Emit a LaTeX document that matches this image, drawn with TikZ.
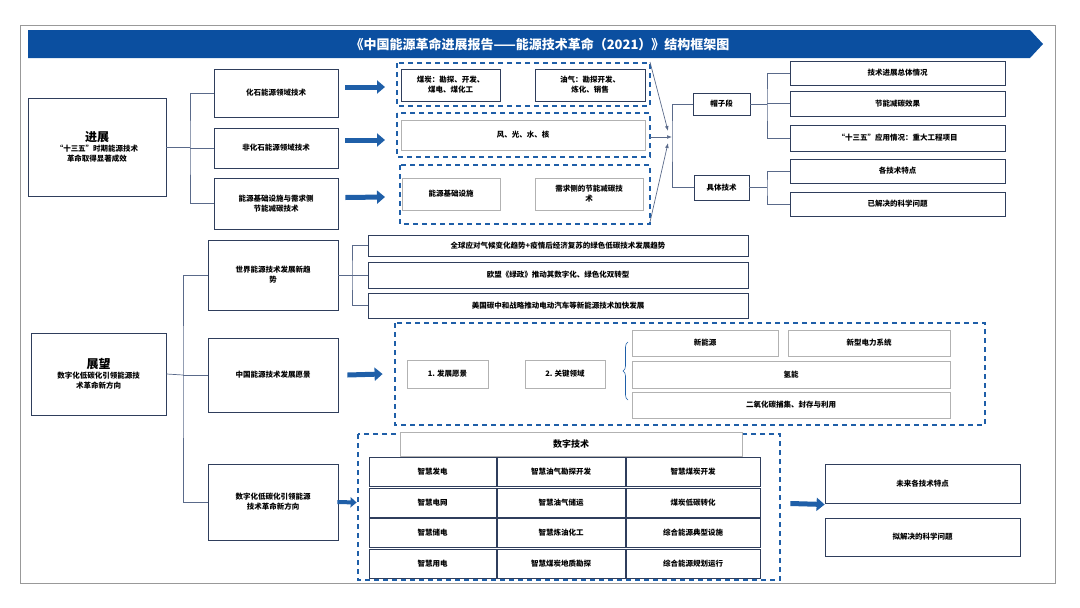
\documentclass[tikz,border=0pt]{standalone}
\usepackage{fontspec}
\setmainfont{Noto Sans CJK SC}
\usetikzlibrary{positioning,arrows.meta,calc,decorations.pathreplacing}
\definecolor{navy}{HTML}{2F3E5C}
\definecolor{linec}{HTML}{5A6A8A}
\definecolor{bannerblue}{HTML}{0B4FA0}
\definecolor{dashblue}{HTML}{1F5FA8}
\tikzset{
  box/.style={draw=navy, line width=0.8pt, fill=white, align=center, font=\fontsize{7.5}{10}\selectfont\bfseries, inner sep=1pt},
  gbox/.style={box, draw=black!30},
  dbox/.style={draw=dashblue, line width=1.8pt, dash pattern=on 5pt off 4pt},
  conn/.style={draw=linec, line width=0.7pt},
  bigarr/.style={draw=dashblue, line width=5pt, -{Triangle[length=8pt,width=13pt]}}
}
\begin{document}
\begin{tikzpicture}[x=1pt,y=-1pt]
\useasboundingbox (0,0) rectangle (1080,608);
\draw[black!40, line width=0.8pt] (20,25) rectangle (1055,583);
\fill[bannerblue] (28,30) -- (1030,30) -- (1043,44) -- (1030,58) -- (28,58) -- cycle;
\node[text=white, font=\fontsize{13}{15}\selectfont\bfseries] (title) at (540,44) {《中国能源革命进展报告——能源技术革命（2021）》结构框架图};
%============ progress
\node[box, minimum width=138pt, minimum height=98pt] (prog) at (97,147) {{\fontsize{12}{14}\selectfont 进展}\\“十三五”时期能源技术\\革命取得显著成效};
\node[box, minimum width=124pt, minimum height=48pt] (fos) at (276,93) {化石能源领域技术};
\node[box, minimum width=124pt, minimum height=40pt] (nfos) at (276,148) {非化石能源领域技术};
\node[box, minimum width=124pt, minimum height=51pt] (infra) at (276,203.5) {能源基础设施与需求侧\\节能减碳技术};
\draw[conn] (prog.east) -- (190,147);
\draw[conn] (fos.west) -| (190,147) |- (infra.west);
\draw[conn] (nfos.west) -- (190,148);
% dashed groups
\draw[dbox] (397,63) rectangle (650,106);
\draw[dbox] (397,113) rectangle (650,157);
\draw[dbox] (400,165) rectangle (650,224);
\coordinate (d1w) at (397,87); \coordinate (d2w) at (397,140); \coordinate (d3w) at (400,197);
\coordinate (d1e) at (650,62); \coordinate (d2e) at (650,137); \coordinate (d3e) at (650,222);
\node[box, minimum width=99pt, minimum height=32pt] (coal) at (450.5,85) {煤炭：勘探、开发、\\煤电、煤化工};
\node[box, minimum width=110pt, minimum height=32pt] (oil) at (590,85) {油气：勘探开发、\\炼化、销售};
\node[gbox, minimum width=244pt, minimum height=30pt] (wind) at (523,135) {风、光、水、核};
\node[gbox, minimum width=98pt, minimum height=32pt] (grid) at (451,194) {能源基础设施};
\node[gbox, minimum width=108pt, minimum height=32pt] (demand) at (589,194) {需求侧的节能减碳技\\术};
\draw[bigarr] ($(fos.east)+(7,-6)$) -- ($(d1w)+(-12,0)$);
\draw[bigarr] ($(nfos.east)+(7,-8)$) -- ($(d2w)+(-12,0)$);
\draw[bigarr] ($(infra.east)+(7,-6)$) -- ($(d3w)+(-15,0)$);
\coordinate (hub) at (672,137);
\draw[conn, -{Latex[length=5pt]}] (d1e) -- (668,131);
\draw[conn, -{Latex[length=5pt]}] (d2e) -- (hub);
\draw[conn, -{Latex[length=5pt]}] (d3e) -- (668,143);
\node[box, minimum width=57pt, minimum height=22pt] (hat) at (721.5,104) {帽子段};
\node[box, minimum width=55pt, minimum height=25pt] (spec) at (721.5,187.5) {具体技术};
\draw[conn] (hat.west) -| (672,137) |- (spec.west);
\node[box, minimum width=215pt, minimum height=24pt] (r1) at (897.5,73) {技术进展总体情况};
\node[box, minimum width=215pt, minimum height=25pt] (r2) at (897.5,103.5) {节能减碳效果};
\node[box, minimum width=215pt, minimum height=26pt] (r3) at (897.5,138) {“十三五”应用情况：重大工程项目};
\node[box, minimum width=215pt, minimum height=24pt] (r4) at (897.5,171) {各技术特点};
\node[box, minimum width=215pt, minimum height=24pt] (r5) at (897.5,204) {已解决的科学问题};
\draw[conn] (hat.east) -- (767,104);
\draw[conn] (r1.west) -| (767,104) |- (r3.west);
\draw[conn] (r2.west) -- (767,103.5);
\draw[conn] (spec.east) -- (767,187.5);
\draw[conn] (r4.west) -| (767,187.5) |- (r5.west);
%============ outlook
\node[box, minimum width=135pt, minimum height=82pt] (outl) at (98.5,374) {{\fontsize{12}{14}\selectfont 展望}\\数字化低碳化引领能源技\\术革命新方向};
\node[box, minimum width=130pt, minimum height=70pt] (world) at (273,275) {世界能源技术发展新趋\\势};
\node[box, minimum width=130pt, minimum height=74pt] (china) at (273,375) {中国能源技术发展愿景};
\node[box, minimum width=130pt, minimum height=76pt] (digi) at (273,502) {数字化低碳化引领能源\\技术革命新方向};
\draw[conn] (outl.east) -- (183,375);
\draw[conn] (world.west) -| (183,375) |- (digi.west);
\draw[conn] (china.west) -- (183,375);
\node[box, minimum width=380pt, minimum height=21pt] (w1) at (558,245.5) {全球应对气候变化趋势+疫情后经济复苏的绿色低碳技术发展趋势};
\node[box, minimum width=380pt, minimum height=26pt] (w2) at (558,275) {欧盟《绿政》推动其数字化、绿色化双转型};
\node[box, minimum width=380pt, minimum height=25pt] (w3) at (558,305.5) {美国碳中和战略推动电动汽车等新能源技术加快发展};
\draw[conn] (world.east) -- (352,275);
\draw[conn] (w1.west) -| (352,275) |- (w3.west);
\draw[conn] (w2.west) -- (352,275);
\draw[dbox] (395,323) rectangle (985,425);
\node[gbox, minimum width=81pt, minimum height=28pt] (vis) at (447.5,374) {1. 发展愿景};
\node[gbox, minimum width=80pt, minimum height=28pt] (key) at (565,374) {2. 关键领域};
\draw[bigarr] ($(china.east)+(9,0)$) -- ($(vis.west)+(-24,0)$);
\draw[dashblue, line width=0.6pt, decorate, decoration={brace, amplitude=5pt}] (628,400) -- (628,342);
\node[gbox, minimum width=146pt, minimum height=26pt] (k1) at (705,343) {新能源};
\node[gbox, minimum width=162pt, minimum height=26pt] (k2) at (869,343) {新型电力系统};
\node[gbox, minimum width=318pt, minimum height=27pt] (k3) at (791,374.5) {氢能};
\node[gbox, minimum width=318pt, minimum height=26pt] (k4) at (791,405) {二氧化碳捕集、封存与利用};
\draw[dbox] (358,434) rectangle (780,580);
\node[gbox, minimum width=342pt, minimum height=24pt, font=\fontsize{9}{11}\selectfont\bfseries] (dtech) at (571,444) {数字技术};
\foreach \t [count=\i] in {智慧发电,智慧电网,智慧储电,智慧用电}
  \node[box, minimum width=127pt, minimum height=29pt] (a\i) at (432.5,472+30.5*\i-30.5) {\t};
\foreach \t [count=\i] in {智慧油气勘探开发,智慧油气储运,智慧炼油化工,智慧煤炭地质勘探}
  \node[box, minimum width=128pt, minimum height=29pt] (b\i) at (561,472+30.5*\i-30.5) {\t};
\foreach \t [count=\i] in {智慧煤炭开发,煤炭低碳转化,综合能源典型设施,综合能源规划运行}
  \node[box, minimum width=134pt, minimum height=29pt] (c\i) at (693,472+30.5*\i-30.5) {\t};
\draw[bigarr, line width=4pt, -{Triangle[length=6pt,width=10pt]}] ($(digi.east)+(-1,0)$) -- ($(a2.west)+(-12,0)$);
\node[box, minimum width=195pt, minimum height=39pt] (fut1) at (922.5,483.5) {未来各技术特点};
\node[box, minimum width=195pt, minimum height=38pt] (fut2) at (922.5,537) {拟解决的科学问题};
\draw[bigarr] ($(c2.east)+(30,1)$) -- ($(fut1.west)+(0,21)$);
\end{tikzpicture}
\end{document}
